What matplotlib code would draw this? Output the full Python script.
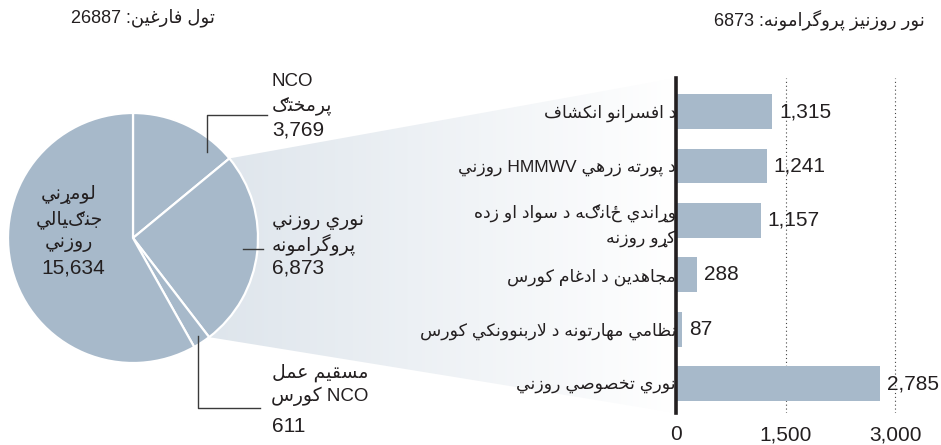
import re
import numpy as np
import matplotlib
matplotlib.use("Agg")
import matplotlib.pyplot as plt
from matplotlib.patches import Polygon

# Datos del gráfico
pie_labels = ["NCO\nپرمختګ", "نوري روزني\nپروگرامونه", "مسقيم عمل\nNCO کورس", "لومړني\nجنګيالي\nروزني"]
pie_values = [3769, 6873, 611, 15634]

bar_labels = [
    "د افسرانو انکشاف",
    "د پورته زرهي HMMWV روزني",
    "وړاندي ځانګه د سواد او زده\nکړو روزنه",
    "مجاهدين د ادغام کورس",
    "نظامي مهارتونه د لاربنوونکي کورس",
    "نوري تخصوصي روزني",
]
bar_values = [1315, 1241, 1157, 288, 87, 2785]
bar_ticks = [0, 1500, 3000]

title_left = "تول فارغين"
title_right = "نور روزنيز پروگرامونه"

PIE_COLOR = "#a7b9ca"
TEXT_COLOR = "#231f20"

plt.rcParams["font.family"] = ["Liberation Sans", "DejaVu Sans"]


# --- formas contextuales árabes (matplotlib no hace shaping) ---
def _forms(start, n):
    f = [chr(start + i) for i in range(n)]
    return tuple(f + [None] * (4 - n))

FORMS = {
    "ئ": _forms(0xFE89, 4), "ا": _forms(0xFE8D, 2), "ب": _forms(0xFE8F, 4),
    "ة": _forms(0xFE93, 2), "ت": _forms(0xFE95, 4), "ث": _forms(0xFE99, 4),
    "ج": _forms(0xFE9D, 4), "ح": _forms(0xFEA1, 4), "خ": _forms(0xFEA5, 4),
    "د": _forms(0xFEA9, 2), "ذ": _forms(0xFEAB, 2), "ر": _forms(0xFEAD, 2),
    "ز": _forms(0xFEAF, 2), "س": _forms(0xFEB1, 4), "ش": _forms(0xFEB5, 4),
    "ص": _forms(0xFEB9, 4), "ض": _forms(0xFEBD, 4), "ط": _forms(0xFEC1, 4),
    "ظ": _forms(0xFEC5, 4), "ع": _forms(0xFEC9, 4), "غ": _forms(0xFECD, 4),
    "ف": _forms(0xFED1, 4), "ق": _forms(0xFED5, 4), "ك": _forms(0xFED9, 4),
    "ل": _forms(0xFEDD, 4), "م": _forms(0xFEE1, 4), "ن": _forms(0xFEE5, 4),
    "ه": _forms(0xFEE9, 4), "و": _forms(0xFEED, 2), "ى": _forms(0xFEEF, 2),
    "ي": _forms(0xFEF1, 4), "پ": _forms(0xFB56, 4), "چ": _forms(0xFB7A, 4),
    "ژ": _forms(0xFB8A, 2), "ک": _forms(0xFB8E, 4), "گ": _forms(0xFB92, 4),
    "ی": _forms(0xFBFC, 4), "ې": _forms(0xFBE4, 4),
}
JOIN = {c: ("D" if f[2] else "R") for c, f in FORMS.items()}
JOIN.update({c: "D" for c in "ټځڅښګڼ"})
JOIN.update({c: "R" for c in "ډړږۍ"})


def shape(s):
    out = []
    i = 0
    while i < len(s):
        c = s[i]
        if c not in JOIN:
            out.append(c)
            i += 1
            continue
        prev_joins = i > 0 and JOIN.get(s[i - 1]) == "D"
        if c == "ل" and i + 1 < len(s) and s[i + 1] == "ا":
            out.append("\uFEFC" if prev_joins else "\uFEFB")
            i += 2
            continue
        next_joins = JOIN[c] == "D" and i + 1 < len(s) and s[i + 1] in JOIN
        idx = 3 if prev_joins and next_joins else 1 if prev_joins else 2 if next_joins else 0
        forms = FORMS.get(c)
        out.append(forms[idx] if forms else c)
        i += 1
    return "".join(out)


LTR = re.compile(r"[A-Za-z0-9][A-Za-z0-9,.]*(?:\s+[A-Za-z0-9][A-Za-z0-9,.]*)*")


def visual_line(line):
    parts, pos = [], 0
    for m in LTR.finditer(line):
        if m.start() > pos:
            parts.append(("r", line[pos:m.start()]))
        parts.append(("l", m.group()))
        pos = m.end()
    if pos < len(line):
        parts.append(("r", line[pos:]))
    return "".join(s if k == "l" else shape(s)[::-1] for k, s in reversed(parts))


def rtl(text):
    return "\n".join(visual_line(l) for l in text.split("\n"))


# --- figura ---
W, H = 941, 445
fig = plt.figure(figsize=(W / 100, H / 100), dpi=100)


def box(x, y, w, h):
    return [x / W, 1 - (y + h) / H, w / W, h / H]


bg = fig.add_axes([0, 0, 1, 1], zorder=-1)
bg.set_xlim(0, W)
bg.set_ylim(H, 0)
bg.axis("off")

# pastel
ax_pie = fig.add_axes(box(8, 113, 250, 250), zorder=1)
ax_pie.pie(pie_values, startangle=90, counterclock=False, colors=[PIE_COLOR] * len(pie_values),
           wedgeprops=dict(edgecolor="white", linewidth=1.6))
ax_pie.set_xlim(-1, 1)
ax_pie.set_ylim(-1, 1)
ax_pie.axis("off")

# barras
NUM_FS = 15
ax_bar = fig.add_axes(box(676, 78, 241.3, 335), zorder=1)
ax_bar.patch.set_alpha(0)
y = np.arange(len(bar_values))
ax_bar.barh(y, bar_values, height=0.64, color=PIE_COLOR, zorder=2)
ax_bar.set_ylim(len(bar_values) - 1 + 0.542, -0.616)
ax_bar.set_xlim(0, 3300)
ax_bar.set_xticks(bar_ticks)
ax_bar.set_xticklabels([f"{t:,}" for t in bar_ticks], fontsize=NUM_FS, color=TEXT_COLOR)
ax_bar.set_yticks(y)
ax_bar.set_yticklabels([rtl(l) for l in bar_labels], fontsize=12.5, color=TEXT_COLOR,
                       linespacing=1.6)
ax_bar.tick_params(axis="x", length=0, pad=9)
ax_bar.tick_params(axis="y", length=0, pad=0)
ax_bar.grid(axis="x", color="#444444", linewidth=0.8, linestyle=(0, (1, 2.5)))
ax_bar.set_axisbelow(True)
for s in ["top", "right", "bottom"]:
    ax_bar.spines[s].set_visible(False)
ax_bar.spines["left"].set_linewidth(2.6)
ax_bar.spines["left"].set_color(TEXT_COLOR)
ax_bar.spines["left"].set_zorder(5)
for yi, v in zip(y, bar_values):
    ax_bar.annotate(f"{v:,}", (v, yi), xytext=(5, 0), textcoords="offset points",
                    va="center", ha="left", fontsize=NUM_FS, color=TEXT_COLOR)

# conector con degradado entre el pastel y las barras
total = sum(pie_values)
a0 = np.deg2rad(90 - 360 * pie_values[0] / total)
a1 = np.deg2rad(90 - 360 * (pie_values[0] + pie_values[1]) / total)
to_bg = bg.transData.inverted()
p_top = to_bg.transform(ax_pie.transData.transform((np.cos(a0), np.sin(a0))))
p_bot = to_bg.transform(ax_pie.transData.transform((np.cos(a1), np.sin(a1))))
q_top = to_bg.transform(ax_bar.transAxes.transform((0, 1)))
q_bot = to_bg.transform(ax_bar.transAxes.transform((0, 0)))
poly = Polygon([p_top, q_top, q_bot, p_bot], closed=True, facecolor="none", edgecolor="none",
               transform=bg.transData)
bg.add_patch(poly)
c0 = np.array([0.870, 0.898, 0.925])
c1 = np.array([1.0, 1.0, 1.0])
t = np.linspace(0, 1, 256)[None, :, None]
grad = c0 + (c1 - c0) * t
x0 = min(p_top[0], p_bot[0])
im = bg.imshow(grad, extent=[x0, q_top[0], q_bot[1], q_top[1]], aspect="auto", zorder=0)
im.set_clip_path(poly)
bg.set_xlim(0, W)
bg.set_ylim(H, 0)

# anotaciones del pastel
ann = fig.add_axes([0, 0, 1, 1], zorder=5)
ann.set_xlim(0, W)
ann.set_ylim(H, 0)
ann.axis("off")

lc = "#3a3a3a"
ann.plot([207, 207, 267], [152, 115, 115], color=lc, lw=1)
ann.plot([198, 198, 260], [336, 408, 408], color=lc, lw=1)
ann.plot([243, 263], [249, 249], color=lc, lw=1)

AR_FS = 13.5


def label_lines(x, y0, step, text, ha):
    for i, line in enumerate(text.split("\n")):
        ann.text(x, y0 + i * step, rtl(line), ha=ha, va="center", fontsize=AR_FS, color=TEXT_COLOR)


label_lines(272, 81, 24.5, pie_labels[0], "left")
ann.text(272, 130, f"{pie_values[0]:,}", ha="left", va="center", fontsize=NUM_FS, color=TEXT_COLOR)
label_lines(272, 222, 23.5, pie_labels[1], "left")
ann.text(272, 268, f"{pie_values[1]:,}", ha="left", va="center", fontsize=NUM_FS, color=TEXT_COLOR)
label_lines(368, 373, 23.5, pie_labels[2], "right")
ann.text(272, 426, f"{pie_values[2]:,}", ha="left", va="center", fontsize=NUM_FS, color=TEXT_COLOR)
label_lines(69, 195, 24.5, pie_labels[3], "center")
ann.text(73, 268, f"{pie_values[3]:,}", ha="center", va="center", fontsize=NUM_FS, color=TEXT_COLOR)

# títulos
ann.text(215, 18, rtl(f"{title_left}: {total}"), ha="right", va="center",
         fontsize=13, color=TEXT_COLOR)
ann.text(925, 20, rtl(f"{title_right}: {sum(bar_values)}"), ha="right", va="center",
         fontsize=13, color=TEXT_COLOR)

fig.savefig("out.png", dpi=100)
